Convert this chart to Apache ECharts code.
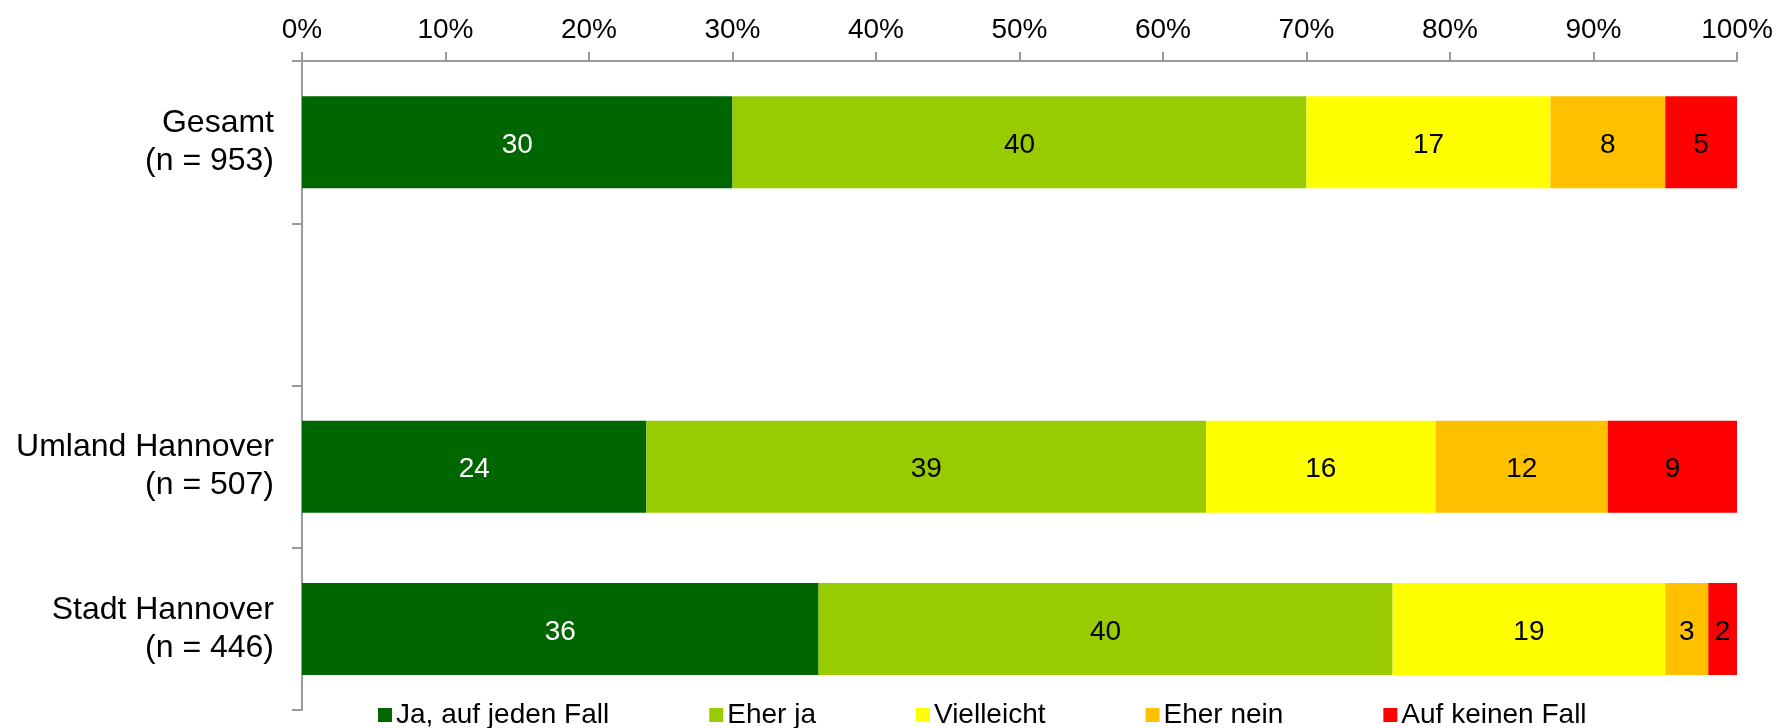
<!DOCTYPE html>
<html>
<head>
<meta charset="utf-8">
<title>Gestapelte Balken</title>
<script src="https://cdn.jsdelivr.net/npm/echarts@6/dist/echarts.min.js"></script>
<style>
  html, body { margin: 0; padding: 0; background: #ffffff; }
  #chart { width: 1780px; height: 728px; }
</style>
</head>
<body>
<div id="chart"></div>
<script>
// Groups from top to bottom; the empty entry keeps a blank row between them
const groups = ['Gesamt\n(n = 953)', '', 'Umland Hannover\n(n = 507)', 'Stadt Hannover\n(n = 446)'];

// Answer categories (legend order)
const answers = ['Ja, auf jeden Fall', 'Eher ja', 'Vielleicht', 'Eher nein', 'Auf keinen Fall'];

// Shares in percent per answer, one value per group (null = blank row)
const jaAufJedenFall = [30, null, 24, 36];
const eherJa         = [40, null, 39, 40];
const vielleicht     = [17, null, 16, 19];
const eherNein       = [8,  null, 12, 3];
const aufKeinenFall  = [5,  null, 9,  2];

// Percent tick labels along the top axis
const tickLabels = ['0%', '10%', '20%', '30%', '40%', '50%', '60%', '70%', '80%', '90%', '100%'];

const seriesValues = [jaAufJedenFall, eherJa, vielleicht, eherNein, aufKeinenFall];
const colors = ['#006600', '#99CC00', '#FFFF00', '#FFC000', '#FF0000'];
const labelColors = ['#ffffff', '#000000', '#000000', '#000000', '#000000'];

const FONT = "'Liberation Sans', Arial, Helvetica, sans-serif";
const AXIS_GRAY = '#9a9a9a';

const chart = echarts.init(document.getElementById('chart'), null, { renderer: 'canvas' });

chart.setOption({
  backgroundColor: '#ffffff',
  animation: false,
  textStyle: { fontFamily: FONT },
  grid: { left: 302, right: 43, top: 61, bottom: 18, containLabel: false },
  legend: {
    data: answers,
    left: 373,
    top: 696,
    itemWidth: 14,
    itemHeight: 14,
    itemGap: 100,
    icon: 'rect',
    textStyle: { fontFamily: FONT, fontSize: 28, color: '#000000', lineHeight: 28, padding: [0, 0, 0, -1] }
  },
  xAxis: {
    type: 'value',
    position: 'top',
    min: 0,
    max: 100,
    interval: 10,
    axisLine: { show: true, lineStyle: { color: AXIS_GRAY, width: 2 } },
    axisTick: { show: true, length: 9, lineStyle: { color: AXIS_GRAY, width: 2 } },
    splitLine: { show: false },
    axisLabel: {
      margin: 17,
      fontFamily: FONT,
      fontSize: 28,
      color: '#000000',
      formatter: function (v) { return tickLabels[Math.round(v / 10)]; }
    }
  },
  yAxis: {
    type: 'category',
    inverse: true,
    data: groups,
    axisLine: { show: true, lineStyle: { color: AXIS_GRAY, width: 2 } },
    axisTick: { show: true, length: 10, lineStyle: { color: AXIS_GRAY, width: 2 } },
    axisLabel: {
      margin: 28,
      fontFamily: FONT,
      fontSize: 32,
      lineHeight: 38,
      color: '#000000',
      align: 'right'
    }
  },
  series: answers.map(function (name, i) {
    return {
      name: name,
      type: 'bar',
      stack: 'total',
      barWidth: 92,
      data: seriesValues[i],
      itemStyle: { color: colors[i] },
      label: {
        show: true,
        position: 'inside',
        offset: [0, 3],
        fontFamily: FONT,
        fontSize: 28,
        color: labelColors[i],
        formatter: '{c}'
      }
    };
  })
});
</script>
</body>
</html>
